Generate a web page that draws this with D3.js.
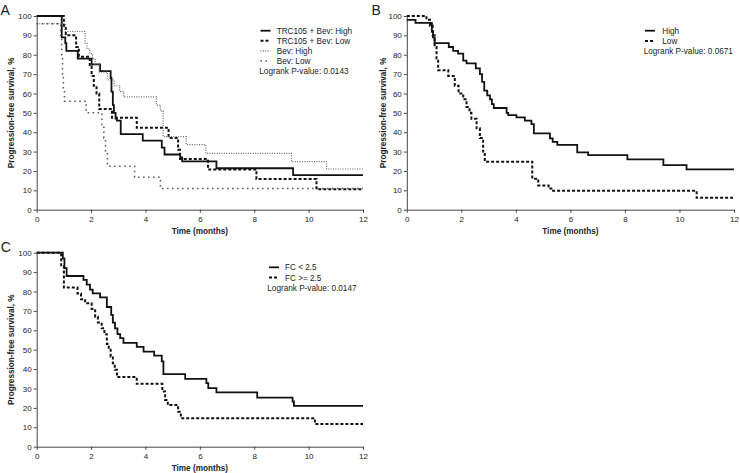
<!DOCTYPE html>
<html><head><meta charset="utf-8">
<script src="https://cdn.jsdelivr.net/npm/d3@7"></script>
<style>
body{margin:0;background:#fff}
svg{display:block}
text{font-family:"Liberation Sans",Arial,Helvetica,sans-serif;fill:#222}
</style>
</head><body>
<svg id="chart" width="740" height="473"></svg>
<script>
// ---------- DATA ----------
const timeTicks = [0, 2, 4, 6, 8, 10, 12];
const survTicks = [0, 10, 20, 30, 40, 50, 60, 70, 80, 90, 100];
const xTitle = "Time (months)";
const yTitle = "Progression-free survival, %";

// Panel A  [time (months), survival %]
const panelA_trcHigh = [[0,100],[0.92,89],[1.05,86],[1.09,82],[1.51,78],[2.02,75],[2.33,71.5],[2.72,68],[2.75,61],[2.8,54],[2.84,50],[2.9,47],[2.95,46],[3.09,39],[3.9,35.7],[4.6,32],[4.7,28.5],[5.28,27],[5.35,25],[6.61,21.4],[9.43,17.9],[12,17.9]];
const panelA_trcLow  = [[0,100],[1.0,95],[1.07,90],[1.45,84],[1.55,79],[1.95,74],[2.02,69],[2.1,64],[2.2,60],[2.3,52],[2.77,47.5],[3.68,42.3],[4.85,37],[5.2,31],[5.27,26.2],[6.3,20.8],[8.08,15.8],[10.29,10.5],[12,10.5]];
const panelA_bevHigh = [[0,96],[1.05,92],[1.78,86],[1.85,83],[1.95,80.6],[2.05,78],[2.15,75],[2.3,71],[2.6,67],[2.85,64],[3.05,61],[3.2,58.2],[4.4,54],[4.55,51],[4.65,37.7],[5.5,33.6],[6.22,29.1],[9.37,24.8],[10.66,21],[12,21]];
const panelA_bevLow  = [[0,96],[0.88,90],[0.92,80],[0.95,70],[0.98,62],[1.02,56],[1.82,50],[2.4,44],[2.47,37],[2.53,30],[2.6,22.4],[3.6,16.7],[4.55,11],[12,11]];
const panelA_labels  = ["TRC105 + Bev: High", "TRC105 + Bev: Low", "Bev: High", "Bev: Low"];
const panelA_pvalue  = "Logrank P-value: 0.0143";

// Panel B
const panelB_high = [[0,98],[0.32,96.4],[0.92,92],[0.96,89],[1.02,86],[1.54,84],[1.7,82],[1.88,80.6],[2.07,77],[2.19,75.5],[2.53,73],[2.68,70],[2.76,66],[2.84,61.5],[2.95,59],[3.05,57],[3.12,54.5],[3.19,52.5],[3.66,50],[3.72,48.8],[4.02,47.7],[4.33,46],[4.57,44.2],[4.66,39.4],[5.25,36.8],[5.35,35],[5.52,33.5],[6.25,29.6],[6.65,28.2],[8.09,26],[9.41,23],[10.26,20.8],[12,20.8]];
const panelB_low  = [[0,100],[0.72,98],[0.85,95],[0.95,90],[1.02,84],[1.09,78],[1.15,72],[1.52,69],[1.76,64],[1.9,60],[2.07,57],[2.19,53],[2.3,50],[2.37,47],[2.56,42],[2.68,37],[2.8,30],[2.86,24.8],[4.6,16],[4.82,12.5],[5.2,11],[5.3,9.8],[10.63,6.2],[12,6.2]];
const panelB_labels = ["High", "Low"];
const panelB_pvalue = "Logrank P-value: 0.0671";

// Panel C
const panelC_fcLow  = [[0,100],[0.96,97],[1.02,92],[1.1,88],[1.72,86],[1.84,83.5],[1.96,81],[2.06,79],[2.33,77],[2.58,72],[2.74,68],[2.8,64],[2.88,61],[2.97,58],[3.07,56],[3.19,53.5],[3.68,51.5],[3.93,49],[4.32,46.9],[4.6,44],[4.66,37.4],[5.46,35],[6.24,32.8],[6.31,30.2],[6.61,28],[8.11,25.3],[9.41,23.3],[9.46,21],[12,21]];
const panelC_fcHigh = [[0,100],[0.9,93],[1.0,82],[1.5,79],[1.63,76],[1.78,74],[2.02,71],[2.15,67],[2.25,64],[2.39,61],[2.49,58],[2.58,53],[2.65,50],[2.72,46.5],[2.8,43],[2.87,39.7],[2.95,35.9],[3.68,32.4],[4.62,28.4],[4.72,24.1],[4.82,21.5],[5.2,18],[5.3,14.7],[10.23,11.7],[12,11.7]];
const panelC_labels = ["FC < 2.5", "FC >= 2.5"];
const panelC_pvalue = "Logrank P-value: 0.0147";

// ---------- STYLES ----------
const sSolid  = {stroke:"#111", width:1.8, dash:null};
const sDashed = {stroke:"#111", width:2, dash:"3,2"};
const sFine   = {stroke:"#666", width:1.2, dash:"1,1.4"};
const sSparse = {stroke:"#555", width:1.5, dash:"1.5,3.5"};

const svg = d3.select("#chart");
const FONT = 8;

function drawPanel(cfg) {
  const g = svg.append("g");
  const x = d3.scaleLinear().domain([0, 12]).range([cfg.left, cfg.right]);
  const y = d3.scaleLinear().domain([0, 100]).range([cfg.bottom, cfg.top]);

  const xAxis = d3.axisBottom(x).tickValues(timeTicks).tickSize(3).tickSizeOuter(0).tickPadding(4);
  const yAxis = d3.axisLeft(y).tickValues(survTicks).tickSize(3).tickSizeOuter(0).tickPadding(2);

  const gx = g.append("g").attr("transform", `translate(0,${cfg.bottom})`).call(xAxis);
  const gy = g.append("g").attr("transform", `translate(${cfg.left},0)`).call(yAxis);
  [gx, gy].forEach(a => {
    a.select(".domain").attr("stroke", "#444").attr("stroke-width", 1);
    a.selectAll(".tick line").attr("stroke", "#444");
    a.selectAll(".tick text").attr("font-size", FONT).attr("fill", "#333")
      .attr("font-family", '"Liberation Sans",Arial,sans-serif');
  });

  const line = d3.line().x(d => x(d[0])).y(d => y(d[1])).curve(d3.curveStepAfter);
  cfg.series.forEach(s => {
    g.append("path").datum(s.data).attr("d", line)
      .attr("fill", "none").attr("stroke", s.style.stroke)
      .attr("stroke-width", s.style.width)
      .attr("stroke-dasharray", s.style.dash);
  });

  // titles
  g.append("text").attr("x", (cfg.left + cfg.right) / 2).attr("y", cfg.bottom + 24.3)
    .attr("text-anchor", "middle").attr("font-weight", "bold").attr("font-size", 8.2).text(xTitle);
  g.append("text").attr("transform", `translate(${cfg.yTitleX},${(cfg.top + cfg.bottom) / 2}) rotate(-90)`)
    .attr("text-anchor", "middle").attr("font-weight", "bold").attr("font-size", 8.2).text(yTitle);
  g.append("text").attr("x", cfg.letterX).attr("y", cfg.letterY).attr("font-size", 14).text(cfg.letter);

  // legend
  cfg.series.forEach((s, i) => {
    const ry = cfg.legY + i * cfg.legStep;
    g.append("line").attr("x1", cfg.legLineX).attr("x2", cfg.legLineX + 10)
      .attr("y1", ry).attr("y2", ry)
      .attr("stroke", s.style.stroke).attr("stroke-width", s.style.width)
      .attr("stroke-dasharray", s.style.dash);
    g.append("text").attr("x", cfg.legTextX).attr("y", ry + 3).attr("font-size", 8.2).text(s.label);
  });
  g.append("text").attr("x", cfg.pX).attr("y", cfg.legY + cfg.series.length * cfg.legStep + 3)
    .attr("font-size", 8.2).text(cfg.pvalue);
}

drawPanel({
  left: 36.7, right: 363, top: 16, bottom: 209.7,
  letter: "A", letterX: 0.5, letterY: 15, yTitleX: 14.3,
  legY: 30.7, legStep: 10.1, legLineX: 260.5, legTextX: 276.7, pX: 259.3,
  pvalue: panelA_pvalue,
  series: [
    {data: panelA_trcHigh, style: sSolid,  label: panelA_labels[0]},
    {data: panelA_trcLow,  style: sDashed, label: panelA_labels[1]},
    {data: panelA_bevHigh, style: sFine,   label: panelA_labels[2]},
    {data: panelA_bevLow,  style: sSparse, label: panelA_labels[3]}
  ]
});

drawPanel({
  left: 406.8, right: 734, top: 16, bottom: 209.7,
  letter: "B", letterX: 371.5, letterY: 15, yTitleX: 386,
  legY: 30.7, legStep: 10.2, legLineX: 645, legTextX: 662.3, pX: 643.7,
  pvalue: panelB_pvalue,
  series: [
    {data: panelB_high, style: sSolid,  label: panelB_labels[0]},
    {data: panelB_low,  style: sDashed, label: panelB_labels[1]}
  ]
});

drawPanel({
  left: 36.7, right: 363, top: 252.7, bottom: 446.7,
  letter: "C", letterX: 0.8, letterY: 252.3, yTitleX: 14.3,
  legY: 267.3, legStep: 10.2, legLineX: 269, legTextX: 285, pX: 267.3,
  pvalue: panelC_pvalue,
  series: [
    {data: panelC_fcLow,  style: sSolid,  label: panelC_labels[0]},
    {data: panelC_fcHigh, style: sDashed, label: panelC_labels[1]}
  ]
});
</script>
</body></html>
